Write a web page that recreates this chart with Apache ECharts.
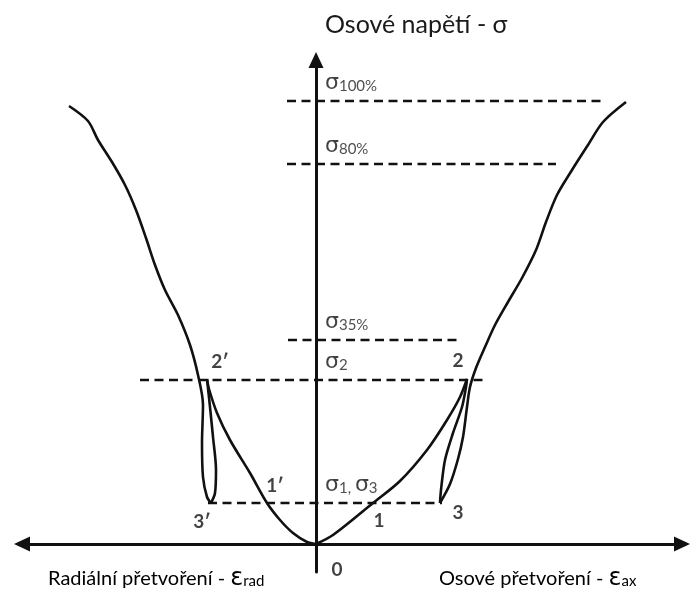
<!DOCTYPE html>
<html>
<head>
<meta charset="utf-8">
<script src="https://cdn.jsdelivr.net/npm/echarts@6/dist/echarts.min.js"></script>
<style>
  html, body { margin: 0; padding: 0; background: #fff; }
  #chart { width: 690px; height: 590px; }
</style>
</head>
<body>
<div id="chart"></div>
<script>
// Schematic of a cyclic triaxial test: axial stress against axial and radial strain
// (arbitrary units, radial strain plotted to the left of the stress axis).

// Stress levels marked with dashed lines
const levelLabels = ['{s|σ}{i|100%}', '{s|σ}{i|80%}', '{s|σ}{i|35%}', '{s|σ}{i|2}', '{s|σ}{i|1, }{s|σ}{i|3}'];
const levelStress = [443, 380, 204, 164, 41];
const levelFrom = [-29, -29, -28, -176, -108];
const levelTo = [289, 240, 142, 169, 126];

// Axial strain branch: loading 0→2, unloading 2→3, reloading 3→failure
const axialLoad = [[0, 0], [17, 9], [57, 41], [84, 63], [111, 94], [131, 124], [144, 147], [151, 165]];
const axialUnload = [[151, 165], [150, 157], [146, 137], [137, 111], [129, 84], [125, 54], [124, 41]];
const axialReload = [[124, 41], [134, 60], [142, 85], [147, 107], [151, 137], [154, 157], [160, 176], [169, 197],
  [179, 219], [192, 242], [206, 266], [220, 294], [230, 322], [241, 349], [256, 374], [272, 399], [287, 422], [310, 442]];

// Radial strain branch: loading 0→2′, unloading 2′→3′, reloading 3′→failure
const radialLoad = [[0, 0], [-9, 2], [-23, 11], [-36, 24], [-49, 41], [-66, 71], [-86, 104], [-99, 131], [-107, 155], [-109, 165]];
const radialUnload = [[-109, 165], [-106, 137], [-103, 107], [-100, 74], [-101, 51], [-105, 41]];
const radialReload = [[-105, 41], [-109, 47], [-113, 67], [-114, 101], [-113, 139], [-118, 169], [-126, 199],
  [-138, 229], [-151, 254], [-161, 279], [-170, 306], [-180, 334], [-191, 359], [-204, 382], [-218, 404], [-228, 423], [-247, 438]];

// Named states on the curves
const stateNames = ['0', '1', '2', '3', '1′', '2′', '3′'];
const statePoints = [[0, 0], [57, 41], [151, 165], [124, 41], [-49, 41], [-109, 165], [-105, 41]];
const stateOffsets = [[21, 26], [6, 18], [-9, -18], [18, 10], [8, -17], [13, -17], [-9, 19]];

const FONT = 'Lato, "Noto Sans", "DejaVu Sans", sans-serif';
const GREEK = '"DejaVu Sans", sans-serif';
const INK = '#111';
const TEXT = '#1a1a1a';

const chart = echarts.init(document.getElementById('chart'), null, { renderer: 'canvas' });

const curve = (data) => ({
  type: 'line', data, smooth: 0.3, symbol: 'none', silent: true, z: 5,
  lineStyle: { color: INK, width: 2.6 }
});

const levelSeries = levelStress.map((v, k) => ({
  type: 'line', symbol: 'none', silent: true, z: 3,
  data: [[levelFrom[k], v], [levelTo[k], v]],
  lineStyle: { color: INK, width: 2.6, type: [9, 5.5] }
}));

const levelLabelSeries = {
  type: 'scatter', symbolSize: 0, silent: true, z: 6,
  data: levelStress.map((v, k) => ({ value: [0, v], name: levelLabels[k] })),
  label: {
    show: true, position: 'inside', align: 'left', verticalAlign: 'middle', offset: [9, -18],
    formatter: (p) => p.name,
    rich: {
      s: { fontFamily: GREEK, fontSize: 22, color: INK },
      i: { fontFamily: FONT, fontSize: 15, color: '#222', padding: [6, 0, 0, 0] }
    }
  }
};

const stateSeries = {
  type: 'scatter', symbolSize: 0, silent: true, z: 6,
  data: statePoints.map((p, k) => ({
    value: p, name: stateNames[k],
    label: { offset: stateOffsets[k] }
  })),
  label: {
    show: true, position: 'inside', align: 'center', verticalAlign: 'middle',
    formatter: (p) => p.name,
    fontFamily: FONT, fontWeight: 'bold', fontSize: 19, color: INK
  }
};

const strainName = (text, sub, x) => ({
  type: 'text', x, y: 579,
  style: {
    text: '{t|' + text + '}{e|ε}{s|' + sub + '}',
    verticalAlign: 'middle',
    rich: {
      t: { fontFamily: FONT, fontSize: 20, color: TEXT },
      e: { fontFamily: GREEK, fontSize: 24, color: TEXT },
      s: { fontFamily: FONT, fontSize: 15, color: TEXT, padding: [5, 0, 0, 0] }
    }
  }
});

const option = {
  animation: false,
  backgroundColor: '#fff',
  grid: { left: 22, right: 8, top: 60, bottom: 18 },
  xAxis: {
    type: 'value', min: -294, max: 366,
    axisLine: { onZero: true, symbol: ['triangle', 'triangle'], symbolSize: [15, 16], lineStyle: { color: INK, width: 3 } },
    axisTick: { show: false }, axisLabel: { show: false }, splitLine: { show: false }
  },
  yAxis: {
    type: 'value', min: -28, max: 484,
    axisLine: { onZero: true, symbol: ['none', 'triangle'], symbolSize: [15, 16], lineStyle: { color: INK, width: 3 } },
    axisTick: { show: false }, axisLabel: { show: false }, splitLine: { show: false }
  },
  graphic: [
    {
      type: 'text', x: 325, y: 25,
      style: { text: 'Osové napětí - σ', font: '25px ' + FONT, fill: TEXT, verticalAlign: 'middle' }
    },
    strainName('Radiální přetvoření - ', 'rad', 48),
    strainName('Osové přetvoření - ', 'ax', 439)
  ],
  series: [
    ...levelSeries,
    curve(axialLoad), curve(axialUnload), curve(axialReload),
    curve(radialLoad), curve(radialUnload), curve(radialReload),
    levelLabelSeries,
    stateSeries
  ]
};

chart.setOption(option);
</script>
</body>
</html>
